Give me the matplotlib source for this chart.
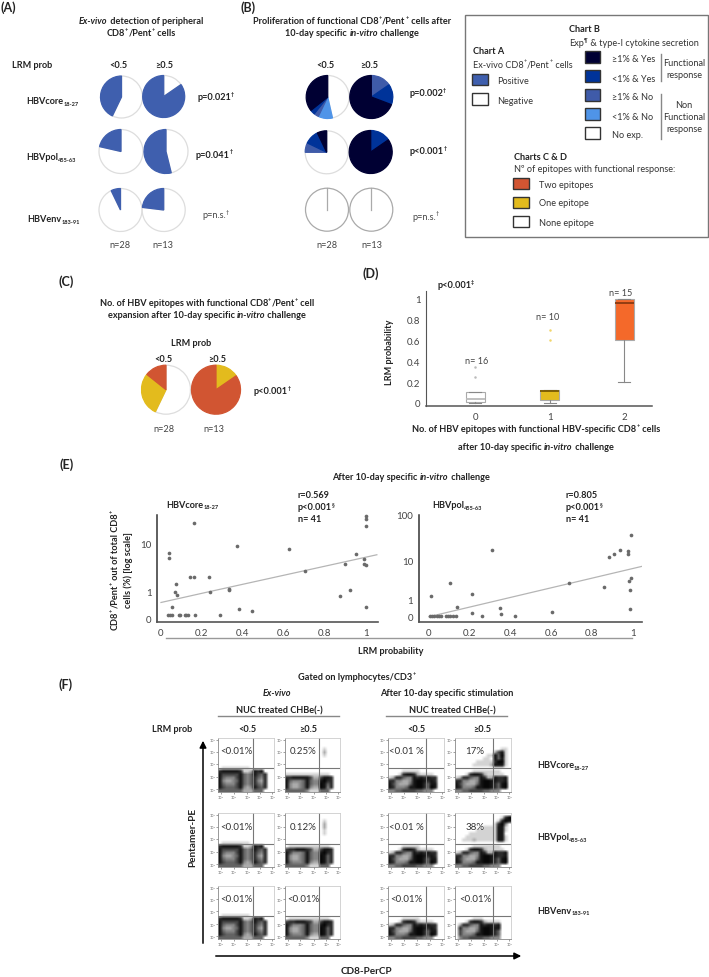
import re

import matplotlib
matplotlib.use("Agg")
import matplotlib.pyplot as plt
import numpy as np
from matplotlib.colors import PowerNorm
from matplotlib.patches import Rectangle

W, H = 709, 978

plt.rcParams["font.family"] = ["Lato", "DejaVu Sans"]

NAVY = "#000033"
BLUE = "#003399"
MID = "#3F5BA9"
LIGHT = "#4F94E8"
POS = "#3F5FAE"
RED = "#D15532"
YELLOW = "#E3BB1D"
ORANGE = "#F4692A"
WHITE = "#FFFFFF"

# panel A, counts clockwise from 12 o'clock
A_CORE_LOW = [16, 12]
A_CORE_HIGH = [2, 11]
A_POL_LOW = [22, 6]
A_POL_HIGH = [6, 7]
A_ENV_LOW = [26, 2]
A_ENV_HIGH = [10, 3]
A_COLORS = [WHITE, POS]

# panel B
B_CORE_LOW = [13, 3, 1, 1, 10]
B_CORE_LOW_COLORS = [WHITE, LIGHT, MID, BLUE, NAVY]
B_CORE_HIGH = [2, 2, 9]
B_CORE_HIGH_COLORS = [MID, BLUE, NAVY]
B_POL_LOW = [21, 2, 3, 2]
B_POL_LOW_COLORS = [WHITE, MID, BLUE, NAVY]
B_POL_HIGH = [2, 11]
B_POL_HIGH_COLORS = [BLUE, NAVY]

# panel C
C_LOW = [16, 8, 4]
C_LOW_COLORS = [WHITE, YELLOW, RED]
C_HIGH = [2, 11]
C_HIGH_COLORS = [YELLOW, RED]

# panel D
D_CATS = [0, 1, 2]
D_Q1 = [0.01, 0.03, 0.61]
D_MED = [0.04, 0.11, 0.96]
D_Q3 = [0.10, 0.125, 1.0]
D_LOW = [0.0, 0.0, 0.2]
D_HIGH = [0.10, 0.125, 1.0]
D_FLIERS = [[0.25, 0.35], [0.61, 0.70], []]
D_FACE = [WHITE, YELLOW, ORANGE]
D_MEDCOL = ["#BBBBBB", "#7A5A00", "#8A3A10"]
D_FLIERCOL = ["#BBBBBB", "#F2D66B", "#BBBBBB"]
D_NLABELS = ["n= 16", "n= 10", "n= 15"]
D_YTICKS = [0, 0.2, 0.4, 0.6, 0.8, 1]
D_YLABELS = ["0", "0.2", "0.4", "0.6", "0.8", "1"]

# panel E
E_CORE_X = [0.16, 1.0, 1.0, 1.0, 0.37, 0.625, 0.04, 0.04, 0.955, 0.99, 0.90, 0.99, 1.0,
            0.705, 0.14, 0.16, 0.237, 0.075, 0.334, 0.334, 0.925, 0.07, 0.08, 0.24, 0.875,
            0.055, 1.0, 0.38, 0.447, 0.035, 0.044, 0.053, 0.086, 0.095, 0.115, 0.124,
            0.133, 0.164, 0.288]
E_CORE_Y = [26, 36, 32, 22.4, 8.7, 7.5, 6.2, 5, 6, 4.8, 3.7, 3.8, 3.5,
            2.66, 2.0, 2.0, 2.0, 1.45, 1.13, 1.08, 1.1, 1.0, 0.9, 0.98, 0.84,
            0.44, 0.41, 0.36, 0.275, 0.125, 0.125, 0.125, 0.125, 0.125, 0.125, 0.125,
            0.125, 0.125, 0.125]
E_CORE_TREND_X = [0.0, 0.23, 1.055]
E_CORE_TREND_Y = [0.6, 1.0, 5.8]

E_POL_X = [0.99, 0.308, 0.884, 0.91, 0.94, 0.976, 0.977, 0.993, 0.984, 0.989, 0.989, 0.86,
           0.689, 0.104, 0.011, 0.209, 0.136, 0.347, 0.355, 0.211, 0.262, 0.422, 0.604,
           0.004, 0.016, 0.027, 0.038, 0.049, 0.06, 0.082, 0.093, 0.104, 0.12, 0.133]
E_POL_Y = [36, 16.5, 11.6, 14, 16.9, 16, 13.7, 3.4, 2.85, 1.69, 0.46, 2.0,
           2.62, 2.57, 1.23, 1.34, 0.54, 0.48, 0.18, 0.2, 0.06, 0.06, 0.28,
           0.06, 0.06, 0.06, 0.06, 0.06, 0.06, 0.06, 0.06, 0.06, 0.06, 0.06]
E_POL_TREND_X = [0.0, 0.367, 1.049]
E_POL_TREND_Y = [0.0, 1.0, 7.0]
E_XTICKS = [0, 0.2, 0.4, 0.6, 0.8, 1]
E_XLABELS = ["0", "0.2", "0.4", "0.6", "0.8", "1"]

# panel F, coarse density: 0 dark .. 9 white
EX_LOW = ["9888888889999999",
          "3222223887232999",
          "2444442565245399",
          "2566642565356399",
          "2677652565367399",
          "2566642565356399",
          "2455542676245399",
          "5555555777555999"]
EX_HIGH = ["9999999999999999",
           "9999999999999999",
           "8888888888888999",
           "3322222477422399",
           "2566652566213399",
           "2677652566125399",
           "2677652677126399",
           "5555556888555999"]
EX_HIGH_TALL = ["9999999999999999",
                "9888888888888999",
                "4332223477422399",
                "2466652566213399",
                "2677652566125399",
                "2677652566125399",
                "2566652677125399",
                "5555556888555999"]
ST_LOW = ["9999999999999999",
          "9999888889999999",
          "9998322378888999",
          "8733566232323399",
          "3366776211232399",
          "2467775211352299",
          "2366652211351299",
          "6655444455666999"]
ST_HIGH = ["9999999999999999",
           "9999988888888999",
           "9998322378888899",
           "8733566237723329",
           "3366776211223329",
           "2467775211235219",
           "2366652211235219",
           "6655444455666999"]
ST_HIGH_ENV = ["9999999999999999",
               "9999988899999999",
               "9998322378888999",
               "9733566232232999",
               "9366776211222999",
               "9467775211235999",
               "9466652211235999",
               "9655444455666999"]
UP_BLANK = ["9999999999999999"] * 9
UP_CORE_SPOT = ["9999999999999999",
                "9999999999999999",
                "9999999999999999",
                "9999999999989999",
                "9999999999979999",
                "9999999999989999",
                "9999999999999999",
                "9999999999999999",
                "9999999999999999"]
UP_POL_SPOT = ["9999999999999999",
               "9999999999999999",
               "9999999999989999",
               "9999999999979999",
               "9999999999979999",
               "9999999999989999",
               "9999999999989999",
               "9999999999999999",
               "9999999999999999"]
UP_CORE_STIM = ["9999999999999999",
                "9999999999999999",
                "9999999999999999",
                "9999999999999889",
                "9999999999974289",
                "9999999998825189",
                "9999999988925289",
                "9999998888831189",
                "9999988888722289"]
UP_POL_STIM = ["9999999999999999",
               "9999999999999831",
               "9999999999998312",
               "9999999999983169",
               "9999999988882289",
               "9999998888882289",
               "9999888888882299",
               "9998888888882289",
               "9988878888882289"]

FLOW_COLS = [(218, 274, 253), (285, 340, 319), (388, 444, 426), (455, 511, 493)]
FLOW_ROWS = [(739, 793, 769), (814, 868, 845), (887, 940, 917)]
FLOW_LOWER = [[EX_LOW, EX_HIGH, ST_LOW, ST_HIGH],
              [EX_LOW, EX_HIGH_TALL, ST_LOW, ST_HIGH],
              [EX_LOW, EX_HIGH_TALL, ST_LOW, ST_HIGH_ENV]]
FLOW_UPPER = [[UP_BLANK, UP_CORE_SPOT, UP_BLANK, UP_CORE_STIM],
              [UP_BLANK, UP_POL_SPOT, UP_BLANK, UP_POL_STIM],
              [UP_BLANK, UP_BLANK, UP_BLANK, UP_BLANK]]
FLOW_PCT = [["<0.01%", "0.25%", "<0.01 %", "17%"],
            ["<0.01%", "0.12%", "<0.01 %", "38%"],
            ["<0.01%", "<0.01%", "<0.01%", "<0.01%"]]
FLOW_TICKS = [0.05, 0.28, 0.52, 0.75, 0.97]
FLOW_TICKLABELS = ["10¹", "10²", "10³", "10⁴", "10⁵"]

fig = plt.figure(figsize=(W / 100, H / 100), dpi=100)
bg = fig.add_axes([0, 0, 1, 1], zorder=5)
bg.set_xlim(0, W)
bg.set_ylim(H, 0)
bg.axis("off")
bg.patch.set_alpha(0)
renderer = fig.canvas.get_renderer()

TOKEN = re.compile(r"(\^\{.*?\}|_\{.*?\}|\*.*?\*)")


def rich(x, y, s, size=6.6, bold=False, ha="center", rot=0, color="#222222"):
    # small markup: ^{sup} _{sub} *italic*, placed piece by piece
    parts = [p for p in TOKEN.split(s) if p]
    pieces = []
    for p in parts:
        kw = {"fontsize": size, "fontweight": "bold" if bold else "normal", "fontstyle": "normal"}
        off = 0
        if p.startswith("^{"):
            p, off = p[2:-1], size * 0.32
            kw["fontsize"] = size * 0.6
        elif p.startswith("_{"):
            p, off = p[2:-1], -size * 0.35
            kw["fontsize"] = size * 0.62
        elif p.startswith("*"):
            p = p[1:-1]
            kw["fontstyle"] = "italic"
        t = bg.text(0, 0, p + "|", color=color, **kw)
        full = t.get_window_extent(renderer).width
        t.set_text("|")
        bar = t.get_window_extent(renderer).width
        t.remove()
        pieces.append((p, kw, off, full - bar))
    total = sum(q[3] for q in pieces)
    pos = 0 if ha == "left" else -total / 2
    for p, kw, off, w in pieces:
        if rot == 90:
            bg.text(x - off * 1.39, y - pos, p, rotation=90, ha="left", va="center_baseline",
                    rotation_mode="anchor", color=color, **kw)
        else:
            bg.text(x + pos, y - off * 1.39, p, ha="left", va="center_baseline", color=color, **kw)
        pos += w


def px_axes(x0, y0, x1, y1):
    return fig.add_axes([x0 / W, 1 - y1 / H, (x1 - x0) / W, (y1 - y0) / H])


def pie(cx, cy, r, values, colors, edge="#DDDDDD"):
    ax = px_axes(cx - r * 1.06, cy - r * 1.06, cx + r * 1.06, cy + r * 1.06)
    wedges, _ = ax.pie(values, colors=colors, startangle=90, counterclock=False, radius=1)
    for w, c in zip(wedges, colors):
        w.set_edgecolor(edge if c == WHITE else c)
        w.set_linewidth(0.9)
    if len(values) == 1:
        # a full wedge still shows its seam in the original
        ax.plot([0, 0], [0, 1], color=edge, lw=0.9)
    ax.set_xlim(-1.06, 1.06)
    ax.set_ylim(-1.06, 1.06)


def y_scale(lin, d1, d2):
    # 0..1 linear, then one distance per decade
    nodes = [0, d1, d1 + d2]

    def forward(v):
        v = np.asarray(v, dtype=float)
        return np.where(v < 1, v * lin, lin + np.interp(np.log10(np.maximum(v, 1)), [0, 1, 2], nodes))

    def inverse(p):
        p = np.asarray(p, dtype=float)
        return np.where(p < lin, p / lin, 10 ** np.interp(p - lin, nodes, [0, 1, 2]))

    return forward, inverse


def scatter_panel(x0, x1, y_top, y_bot, xzero, xone, funcs, ymin, ymax, xs, ys, tx, ty, yticks, ylabels):
    ax = px_axes(x0, y_top, x1, y_bot)
    ax.set_yscale("function", functions=funcs)
    ax.scatter(xs, ys, s=7, color="#6A6A6A", linewidths=0, zorder=3, clip_on=False)
    ax.plot(tx, ty, color="#B5B5B5", lw=0.9, zorder=2)
    ax.set_xlim((x0 - xzero) / (xone - xzero), (x1 - xzero) / (xone - xzero))
    ax.set_ylim(ymin, ymax)
    ax.set_xticks(E_XTICKS, E_XLABELS)
    ax.set_yticks(yticks, ylabels)
    ax.minorticks_off()
    ax.tick_params(length=0, labelsize=7, colors="#444444", pad=4)
    ax.patch.set_alpha(0)
    for side in ("top", "right"):
        ax.spines[side].set_visible(False)
    ax.spines["left"].set_color("#333333")
    ax.spines["left"].set_linewidth(1.1)
    ax.spines["bottom"].set_color("#555555")
    ax.spines["bottom"].set_linewidth(1.2)


# ---- panel A / B
rich(8, 7, "(A)", size=9, bold=True)
rich(248, 7, "(B)", size=9, bold=True)
rich(141, 20, "*Ex-vivo* detection of peripheral", bold=True)
rich(141, 32, "CD8^{+}/Pent^{+} cells", bold=True)
rich(352, 20, "Proliferation of functional CD8^{+}/Pent^{+} cells after", bold=True)
rich(352, 32, "10-day specific *in-vitro* challenge", bold=True)
rich(32, 64, "LRM prob", bold=True)
rich(118, 64, "<0.5", bold=True)
rich(164, 64, "≥0.5", bold=True)
rich(325, 65, "<0.5", bold=True)
rich(369, 65, "≥0.5", bold=True)
rich(26, 100.5, "HBVcore_{18-27}", bold=True, ha="left")
rich(26, 157, "HBVpol_{455-63}", bold=True, ha="left")
rich(27, 219, "HBVenv_{183-91}", bold=True, ha="left")
rich(197, 97, "p=0.021^{†}", bold=True, ha="left")
rich(196, 154, "p=0.041^{†}", bold=True, ha="left")
rich(202, 215, "p=n.s.^{†}", ha="left", color="#444444")
rich(409, 93, "p=0.002^{†}", bold=True, ha="left")
rich(410, 151, "p<0.001^{†}", bold=True, ha="left")
rich(412, 216, "p=n.s.^{†}", ha="left", color="#444444")
for x, label in [(120, "n=28"), (163, "n=13"), (327, "n=28"), (372, "n=13")]:
    rich(x, 244, label, color="#444444")

pie(121.5, 98, 21, A_CORE_LOW, A_COLORS)
pie(163.7, 97.5, 21, A_CORE_HIGH, A_COLORS)
pie(121, 152.5, 22, A_POL_LOW, A_COLORS)
pie(166, 152.5, 22, A_POL_HIGH, A_COLORS)
pie(120.5, 211, 21.5, A_ENV_LOW, A_COLORS)
pie(163.7, 211, 21.5, A_ENV_HIGH, A_COLORS)
pie(327.7, 98, 21.5, B_CORE_LOW, B_CORE_LOW_COLORS)
pie(371.3, 98, 21.5, B_CORE_HIGH, B_CORE_HIGH_COLORS)
pie(326.7, 153.3, 21.5, B_POL_LOW, B_POL_LOW_COLORS)
pie(370.7, 153, 21.5, B_POL_HIGH, B_POL_HIGH_COLORS)
pie(327, 210.7, 21.5, [1], [WHITE], edge="#AAAAAA")
pie(371.3, 210.7, 21.5, [1], [WHITE], edge="#AAAAAA")

# ---- legend box
bg.add_patch(Rectangle((465, 16), 243, 222, fill=False, ec="#777777", lw=1))


def swatch(x0, y0, x1, y1, color):
    bg.add_patch(Rectangle((x0, y0), x1 - x0, y1 - y0, fc=color, ec="#333333", lw=1))


rich(473, 50, "Chart A", bold=True, ha="left")
rich(473, 64, "Ex-vivo CD8^{+}/Pent^{+} cells", ha="left", color="#333333")
swatch(472, 75, 488, 86, POS)
swatch(472, 94, 488, 106, WHITE)
rich(497, 81, "Positive", ha="left", color="#333333")
rich(497, 100, "Negative", ha="left", color="#333333")

rich(569, 28, "Chart B", bold=True, ha="left")
rich(569, 42, "Exp^{¶} & type-I cytokine secretion", ha="left", color="#333333")
b_swatches = [(52, 64, NAVY, "≥1% & Yes", 59), (71, 83, BLUE, "<1% & Yes", 78), (90, 102, MID, "≥1% & No", 97),
              (109, 121, LIGHT, "<1% & No", 116), (128, 140, WHITE, "No exp.", 134)]
for y0, y1, color, label, ty in b_swatches:
    swatch(585, y0, 600, y1, color)
    rich(612, ty, label, ha="left", color="#333333")
bg.plot([661, 661], [55, 82], color="#888888", lw=1)
bg.plot([661, 661], [95, 140], color="#888888", lw=1)
for ty, label in [(63, "Functional"), (75, "response"), (105, "Non"), (117, "Functional"), (128, "response")]:
    rich(684, ty, label, color="#333333")

rich(514, 157, "Charts C & D", bold=True, ha="left")
rich(514, 168, "Nº of epitopes with functional response:", ha="left", color="#333333")
for y0, y1, color, label, ty in [(179, 190, RED, "Two epitopes", 184), (198, 209, YELLOW, "One epitope", 203),
                                 (217, 228, WHITE, "None epitope", 222)]:
    swatch(513, y0, 529, y1, color)
    rich(539, ty, label, ha="left", color="#333333")

# ---- panel C
rich(66, 281, "(C)", size=9, bold=True)
rich(207, 302, "No. of HBV epitopes with functional CD8^{+}/Pent^{+} cell", bold=True)
rich(207, 314, "expansion after 10-day specific *in-vitro* challenge", bold=True)
rich(191, 343, "LRM prob", bold=True)
rich(163, 359, "<0.5", bold=True)
rich(217, 359, "≥0.5", bold=True)
rich(272, 391, "p<0.001^{†}", bold=True)
rich(164, 429, "n=28", color="#444444")
rich(214, 429, "n=13", color="#444444")
pie(166, 390.7, 24.5, C_LOW, C_LOW_COLORS)
pie(216, 390.7, 24.5, C_HIGH, C_HIGH_COLORS)

# ---- panel D
rich(371, 273, "(D)", size=9, bold=True)
rich(437, 285, "p<0.001^{‡}", bold=True, ha="left")
ax = px_axes(426, 292, 652, 407)
stats = [{"med": m, "q1": a, "q3": b, "whislo": lo, "whishi": hi, "fliers": f}
         for m, a, b, lo, hi, f in zip(D_MED, D_Q1, D_Q3, D_LOW, D_HIGH, D_FLIERS)]
parts = ax.bxp(stats, positions=D_CATS, widths=0.255, patch_artist=True, manage_ticks=False,
               capwidths=0.16, flierprops={"marker": "o", "markersize": 1.8, "markeredgewidth": 0})
for i in range(3):
    parts["boxes"][i].set(facecolor=D_FACE[i], edgecolor="#AAAAAA", linewidth=0.8)
    parts["medians"][i].set(color=D_MEDCOL[i], linewidth=1.3)
    parts["fliers"][i].set(markerfacecolor=D_FLIERCOL[i])
for line in parts["whiskers"] + parts["caps"]:
    line.set(color="#888888", linewidth=0.8)
ax.set_xlim(-0.658, 2.37)
ax.set_ylim(-0.03, 1.077)
ax.set_xticks(D_CATS, [str(c) for c in D_CATS])
ax.set_yticks(D_YTICKS, D_YLABELS)
ax.tick_params(length=0, labelsize=7, colors="#444444", pad=4)
ax.patch.set_alpha(0)
for side in ("top", "right"):
    ax.spines[side].set_visible(False)
ax.spines["left"].set_color("#555555")
ax.spines["bottom"].set_color("#555555")
ax.spines["bottom"].set_linewidth(1.1)
rich(477, 360, D_NLABELS[0], color="#444444")
rich(548, 317, D_NLABELS[1], color="#444444")
rich(621, 292, D_NLABELS[2], color="#444444")
rich(389, 352, "LRM probability", bold=True, rot=90)
rich(536, 428, "No. of HBV epitopes with functional HBV-specific CD8^{+} cells", bold=True)
rich(536, 447, "after 10-day specific *in-vitro* challenge", bold=True)

# ---- panel E
rich(67, 464, "(E)", size=9, bold=True)
rich(411, 476, "After 10-day specific *in-vitro* challenge", bold=True)
rich(166, 504, "HBVcore_{18-27}", bold=True, ha="left")
rich(432, 505, "HBVpol_{455-63}", bold=True, ha="left")
for x, r_label in [(298, "r=0.569"), (566, "r=0.805")]:
    rich(x, 495, r_label, bold=True, ha="left")
    rich(x, 507, "p<0.001^{§}", bold=True, ha="left")
    rich(x, 519, "n= 41", bold=True, ha="left")
scatter_panel(157, 378, 516, 623, 161, 365.6, y_scale(26.7, 49.3, 49.3), -0.14, 38,
              E_CORE_X, E_CORE_Y, E_CORE_TREND_X, E_CORE_TREND_Y, [0, 1, 10], ["0", "1", "10"])
scatter_panel(418.5, 642, 516, 623, 429, 632.6, y_scale(16.7, 36.7, 42.7), -0.3, 115,
              E_POL_X, E_POL_Y, E_POL_TREND_X, E_POL_TREND_Y, [0, 1, 10, 100], ["0", "1", "10", "100"])
rich(114, 570, "CD8^{+}/Pent^{+} out of total CD8^{+}", bold=True, rot=90)
rich(127, 570, "cells (%) [log scale]", bold=True, rot=90)
bg.plot([166, 632], [639, 639], color="#999999", lw=1)
rich(391, 651, "LRM probability", bold=True)

# ---- panel F
rich(66, 684, "(F)", size=9, bold=True)
rich(357, 676, "Gated on lymphocytes/CD3^{+}", bold=True)
rich(277, 693, "*Ex-vivo*", bold=True)
rich(447, 693, "After 10-day specific stimulation", bold=True)
rich(279, 710, "NUC treated CHBe(-)", bold=True)
rich(452, 710, "NUC treated CHBe(-)", bold=True)
bg.plot([218, 339], [717, 717], color="#888888", lw=1)
bg.plot([386, 507], [717, 717], color="#888888", lw=1)
rich(172, 728, "LRM prob", bold=True)
for x, label in [(247, "<0.5"), (308, "≥0.5"), (416, "<0.5"), (482, "≥0.5")]:
    rich(x, 728, label, bold=True)

for r, (y0, y1, ygate) in enumerate(FLOW_ROWS):
    for c, (x0, x1, xgate) in enumerate(FLOW_COLS):
        ax = px_axes(x0, y0, x1, y1)
        grid = [[int(d) for d in row] for row in FLOW_UPPER[r][c] + FLOW_LOWER[r][c]]
        ax.imshow(np.array(grid), cmap="gray", norm=PowerNorm(gamma=1.6, vmin=0, vmax=9), aspect="auto",
                  extent=(0, 1, 0, 1), interpolation="bilinear")
        ax.axvline((xgate - x0) / (x1 - x0), color="#777777", lw=0.8)
        ax.axhline((y1 - ygate) / (y1 - y0), color="#777777", lw=0.8)
        ax.set_xlim(0, 1)
        ax.set_ylim(0, 1)
        ax.set_xticks(FLOW_TICKS, FLOW_TICKLABELS)
        ax.set_yticks(FLOW_TICKS, FLOW_TICKLABELS)
        ax.tick_params(length=1.5, width=0.4, labelsize=2.5, pad=0.5, colors="#555555",
                       labelfontfamily="DejaVu Sans")
        for side in ("top", "right"):
            ax.spines[side].set_color("#CCCCCC")
            ax.spines[side].set_linewidth(0.6)
        for side in ("left", "bottom"):
            ax.spines[side].set_color("#888888")
            ax.spines[side].set_linewidth(0.6)
        rich(x0 + 18 if c != 3 else x0 + 20, (y0 + 12) if r != 2 else (y0 + 11), FLOW_PCT[r][c], size=7, color="#333333")

bg.annotate("", xy=(203, 739), xytext=(203, 947), arrowprops={"arrowstyle": "-|>", "color": "black", "lw": 1.1})
bg.annotate("", xy=(524, 957), xytext=(213, 957), arrowprops={"arrowstyle": "-|>", "color": "black", "lw": 1.1})
rich(192, 837, "Pentamer-PE", bold=True, size=7.2, rot=90)
rich(366, 971, "CD8-PerCP", bold=True, size=7.2)
rich(537, 765, "HBVcore_{18-27}", bold=True, ha="left")
rich(537, 837, "HBVpol_{455-63}", bold=True, ha="left")
rich(537, 910, "HBVenv_{183-91}", bold=True, ha="left")

fig.savefig("out.png", dpi=100)
